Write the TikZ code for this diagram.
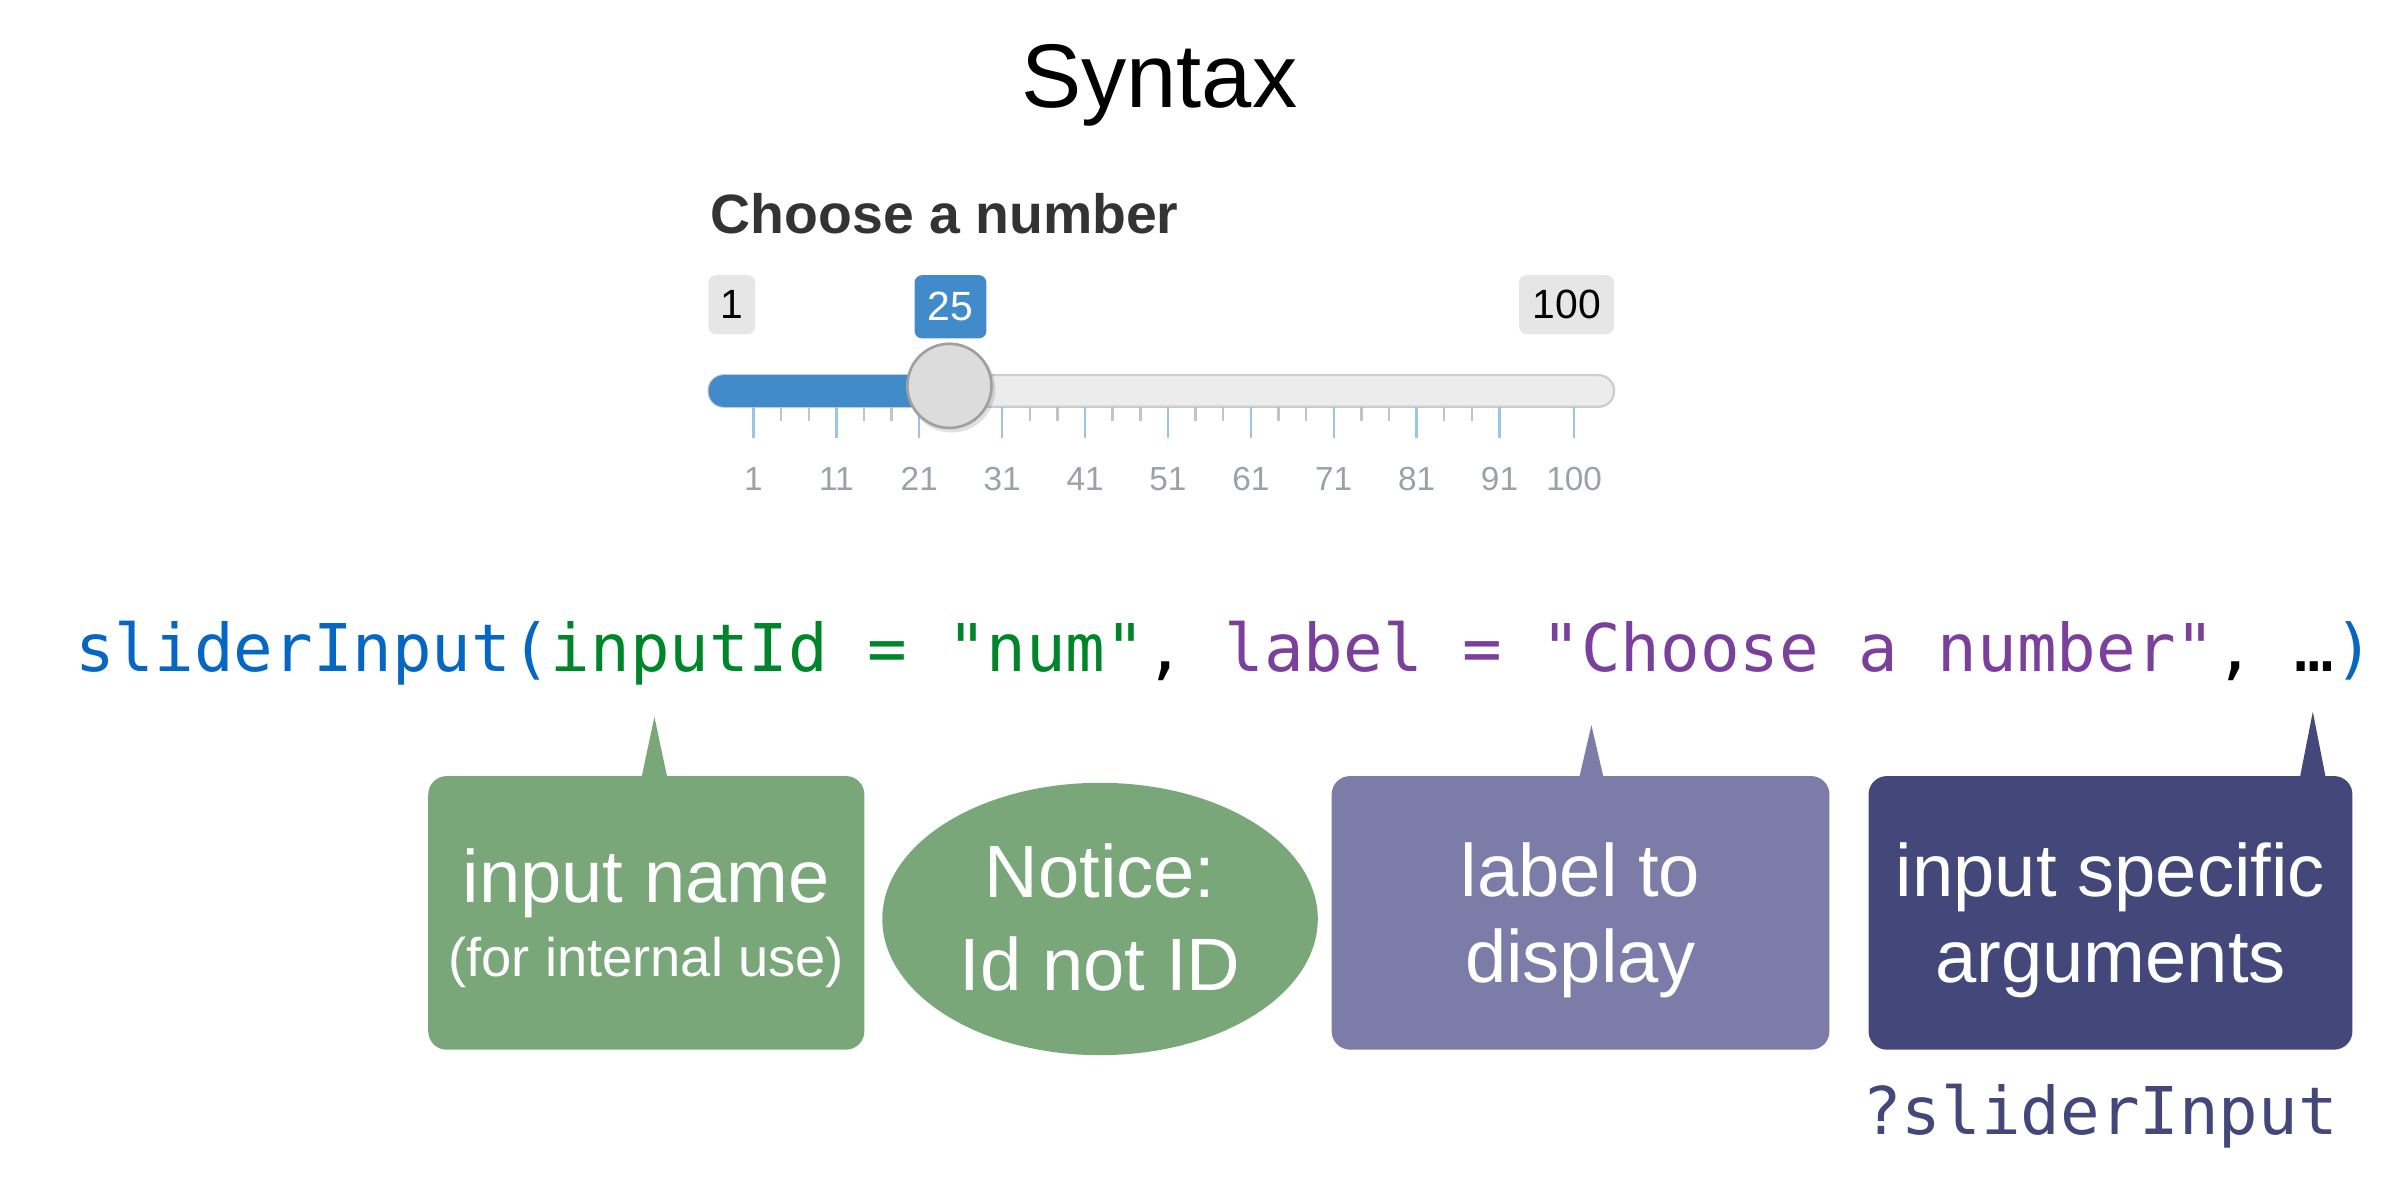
\documentclass[tikz,border=0pt]{standalone}
\usepackage{fontspec}
\setmainfont{Liberation Sans}
\setmonofont{DejaVu Sans Mono}
\usepackage{tikz}
\usetikzlibrary{shapes.geometric}

\definecolor{sliderblue}{RGB}{66,139,202}
\definecolor{trackgray}{RGB}{236,236,236}
\definecolor{trackline}{RGB}{204,204,204}
\definecolor{knobfill}{RGB}{220,220,220}
\definecolor{knobline}{RGB}{160,160,160}
\definecolor{tagbg}{RGB}{230,230,230}
\definecolor{majorcol}{RGB}{156,196,232}
\definecolor{minorcol}{RGB}{196,196,196}
\definecolor{gridtext}{RGB}{153,161,170}
\definecolor{labeltext}{RGB}{51,51,51}
\definecolor{fnblue}{RGB}{6,102,196}
\definecolor{idgreen}{RGB}{0,133,43}
\definecolor{lblpurple}{RGB}{122,64,155}
\definecolor{namefill}{RGB}{121,167,121}
\definecolor{lblfill}{RGB}{123,125,168}
\definecolor{argfill}{RGB}{67,71,122}

\tikzset{
  tag/.style={rounded corners=0.05cm, inner sep=0pt, minimum height=0.386cm, font=\fontsize{7.6}{8}\selectfont},
  gridlbl/.style={anchor=base, inner sep=0pt, text=gridtext, font=\fontsize{6.2}{7}\selectfont},
  callout/.style={rounded corners=0.12cm, inner sep=0pt, minimum height=1.788cm},
  bigtxt/.style={anchor=base, inner sep=0pt, text=white, font=\fontsize{13.8}{16}\selectfont},
  smalltxt/.style={anchor=base, inner sep=0pt, text=white, font=\fontsize{10.1}{12}\selectfont},
  code/.style={anchor=base west, inner sep=0pt, font=\fontsize{12.24}{14}\ttfamily},
}

\begin{document}
\begin{tikzpicture}[x=0.01cm, y=-0.01cm]
  \useasboundingbox (0,0) rectangle (1568,776.2);

  \node[anchor=base, inner sep=0pt, font=\fontsize{16.8}{20}\selectfont] (title) at (758,70) {Syntax};
  \node[anchor=base west, inner sep=0pt, text=labeltext, font=\bfseries\fontsize{10.3}{12}\selectfont] (numlabel) at (464,152.6) {Choose a number};

  % slider
  \draw[draw=trackline, fill=trackgray, rounded corners=0.1cm] (463.3,245.3) rectangle (1055.4,266);
  \fill[sliderblue, rounded corners=0.1cm] (463.3,245.3) rectangle (624,266);
  \foreach \v in {1,11,...,91,100}{
    \draw[majorcol, line width=0.45pt] ({492.7+(\v-1)*5.42},266) -- ++(0,20.7);
    \node[gridlbl] (grid\v) at ({492.7+(\v-1)*5.42},320.5) {\v};
  }
  \foreach \k in {0,...,8}
    \foreach \f in {3.33,6.67}
      \draw[minorcol, line width=0.45pt] ({492.7+(10*\k+\f)*5.42},266) -- ++(0,9.3);
  \fill[black, opacity=0.12] (622.3,254.3) circle (0.285cm);
  \draw[draw=knobline, fill=knobfill, line width=0.5pt] (620.8,252.3) circle (0.275cm);

  \node[tag, fill=tagbg, minimum width=0.305cm] (minval) at (478.5,199.2) {1};
  \node[tag, fill=sliderblue, text=white, minimum width=0.47cm, minimum height=0.414cm] (curval) at (621.5,200.6) {25};
  \node[tag, fill=tagbg, minimum width=0.62cm] (maxval) at (1024.4,199.2) {100};

  % call
  \node[code] (call) at (48.5,439) {\textcolor{fnblue}{sliderInput(}\textcolor{idgreen}{inputId = "num"}, \textcolor{lblpurple}{label = "Choose a number"}, …\textcolor{fnblue}{)}};

  % callouts
  \node[callout, fill=namefill, minimum width=2.85cm] (namebox) at (422.6,596.9) {};
  \coordinate (nametip) at (427.9,468.7);
  \fill[namefill] (nametip) -- ([xshift=-0.085cm,yshift=-0.02cm]nametip |- namebox.north) -- ([xshift=0.085cm,yshift=-0.02cm]nametip |- namebox.north) -- cycle;
  \node[bigtxt] (nameline) at (422.6,590.4) {input name};
  \node[smalltxt] (namenote) at (422.6,638.8) {(for internal use)};

  \node[ellipse, fill=namefill, inner sep=0pt, minimum width=2.846cm, minimum height=1.78cm] (notice) at (719.3,600.9) {};
  \node[bigtxt] (noticeline) at (719.3,587) {Notice:};
  \node[bigtxt] (noticenote) at (719.3,647.5) {Id not ID};

  \node[callout, fill=lblfill, minimum width=3.253cm] (lblbox) at (1033.5,596.9) {};
  \coordinate (lbltip) at (1040.6,474.1);
  \fill[lblfill] (lbltip) -- ([xshift=-0.08cm,yshift=-0.02cm]lbltip |- lblbox.north) -- ([xshift=0.08cm,yshift=-0.02cm]lbltip |- lblbox.north) -- cycle;
  \node[bigtxt] (lblline) at (1033.5,586) {label to};
  \node[bigtxt] (lblnote) at (1033.5,642.7) {display};

  \node[callout, fill=argfill, minimum width=3.162cm] (argbox) at (1380,596.9) {};
  \coordinate (argtip) at (1512.3,465.4);
  \fill[argfill] (argtip) -- ([xshift=-0.085cm,yshift=-0.02cm]argtip |- argbox.north) -- ([xshift=0.085cm,yshift=-0.02cm]argtip |- argbox.north) -- cycle;
  \node[bigtxt] (argline) at (1380,586) {input specific};
  \node[bigtxt] (argnote) at (1380,642.7) {arguments};

  \node[code, text=argfill] (help) at (1217,741.7) {?sliderInput};
\end{tikzpicture}
\end{document}
